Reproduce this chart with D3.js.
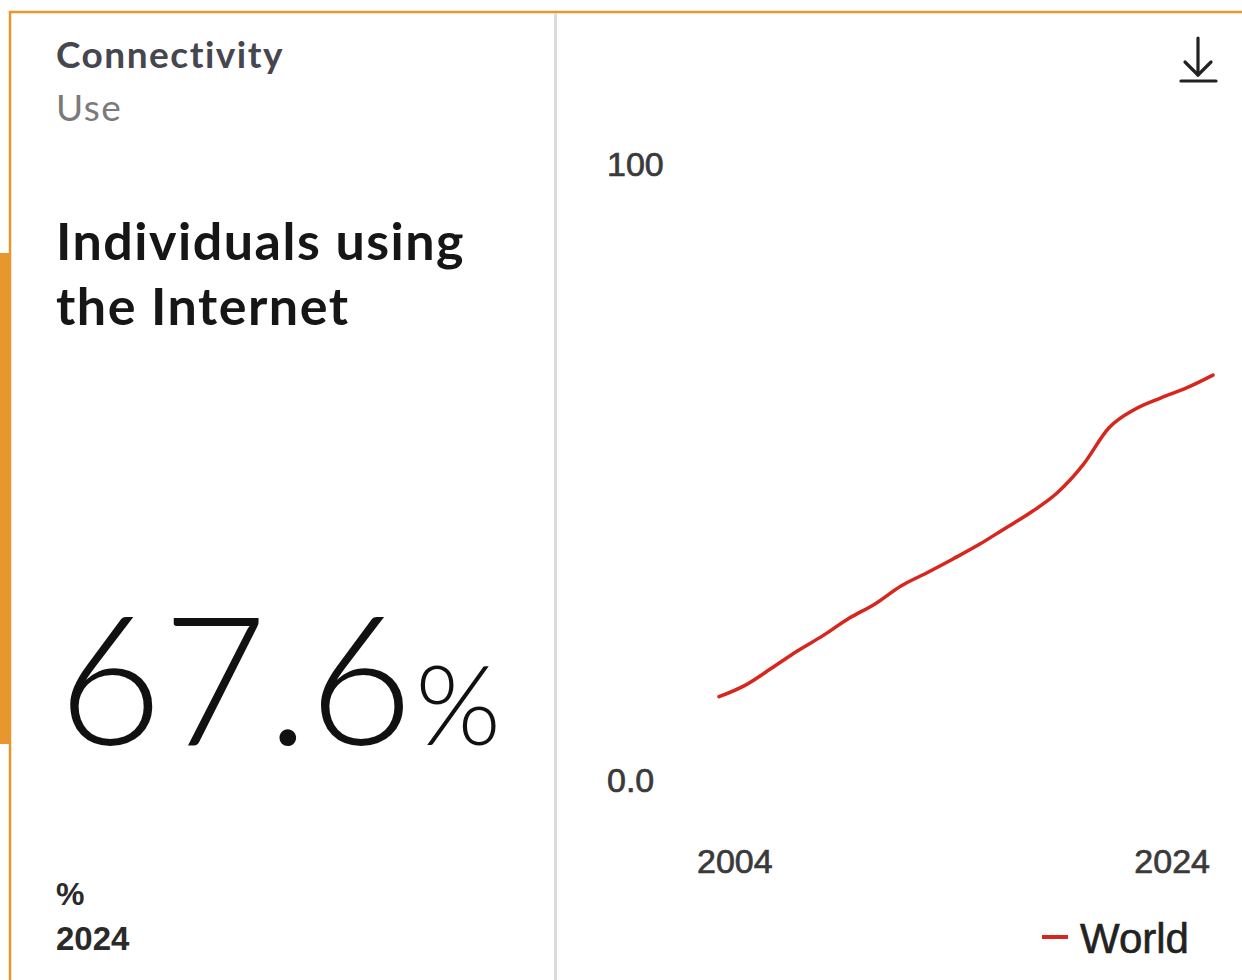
<!DOCTYPE html>
<html>
<head>
<meta charset="utf-8">
<script src="https://cdn.jsdelivr.net/npm/d3@7"></script>
<style>
  body { margin: 0; background: #fff; }
  svg { display: block; }
</style>
</head>
<body>
<div id="card"></div>
<script>
// Chart data
const years = [2005, 2006, 2007, 2008, 2009, 2010, 2011, 2012, 2013, 2014,
               2015, 2016, 2017, 2018, 2019, 2020, 2021, 2022, 2023, 2024];
const worldValues = [13.9, 15.8, 18.6, 21.5, 24.1, 27.0, 29.4, 32.4, 34.6, 36.9,
                     39.3, 42.0, 44.7, 47.9, 52.6, 58.8, 61.9, 63.8, 65.5, 67.6];
const yTickValues = [100, 0];
const yTickLabels = ["100", "0.0"];
const xTickValues = [2004, 2024];
const xTickLabels = ["2004", "2024"];
const seriesName = "World";

const width = 1242;
const height = 980;
const orange = "#e8972f";
const red = "#d7261e";
const axisFont = "'Liberation Sans', Arial, sans-serif";

const svg = d3.select("#card")
    .append("svg")
    .attr("width", width)
    .attr("height", height);

// Card frame
svg.append("rect")
    .attr("x", 10).attr("y", 12)
    .attr("width", width + 10).attr("height", height)
    .attr("fill", "#fff")
    .attr("stroke", orange)
    .attr("stroke-width", 2.5);

// Thick orange marker on the left edge
svg.append("rect")
    .attr("x", 0).attr("y", 253)
    .attr("width", 11).attr("height", 491)
    .attr("fill", orange);

// Divider between the text panel and the chart
svg.append("rect")
    .attr("x", 554).attr("y", 13)
    .attr("width", 3).attr("height", height)
    .attr("fill", "#dcdcdc");

// ----- Left panel -----
svg.append("text")
    .attr("x", 56).attr("y", 68)
    .style("font-family", "Lato, sans-serif")
    .style("font-weight", 700)
    .style("font-size", "37px")
    .style("letter-spacing", "1.5px")
    .attr("fill", "#46464f")
    .text("Connectivity");

svg.append("text")
    .attr("x", 56).attr("y", 121)
    .style("font-family", "Lato, sans-serif")
    .style("font-weight", 400)
    .style("font-size", "37px")
    .style("letter-spacing", "1.5px")
    .attr("fill", "#7a7a7a")
    .text("Use");

const title = svg.append("text")
    .style("font-family", "Lato, sans-serif")
    .style("font-weight", 700)
    .style("font-size", "52px")
    .style("letter-spacing", "1.5px")
    .attr("fill", "#161616");
title.append("tspan").attr("x", 56).attr("y", 260).text("Individuals using");
title.append("tspan").attr("x", 56).attr("y", 325).text("the Internet");

// Headline value
const big = svg.append("text")
    .attr("x", 58).attr("y", 745)
    .style("font-family", "Lato, sans-serif")
    .style("font-weight", 300)
    .attr("fill", "#111");
big.append("tspan").style("font-size", "180px").text(worldValues[worldValues.length - 1].toFixed(1));
big.append("tspan").style("font-size", "110px").attr("dx", 2).text("%");

svg.append("text")
    .attr("x", 56).attr("y", 905)
    .style("font-family", axisFont)
    .style("font-weight", 700)
    .style("font-size", "32px")
    .attr("fill", "#2a2a2a")
    .text("%");

svg.append("text")
    .attr("x", 56).attr("y", 950)
    .style("font-family", axisFont)
    .style("font-weight", 700)
    .style("font-size", "33px")
    .attr("fill", "#2a2a2a")
    .text(years[years.length - 1]);

// ----- Right panel: line chart -----
const x = d3.scaleLinear().domain([2004, 2024]).range([693, 1213]);
const y = d3.scaleLinear().domain([0, 100]).range([780, 181]);

const data = years.map((yr, i) => ({ year: yr, value: worldValues[i] }));

const line = d3.line()
    .x(d => x(d.year))
    .y(d => y(d.value))
    .curve(d3.curveMonotoneX);

svg.append("path")
    .datum(data)
    .attr("d", line)
    .attr("fill", "none")
    .attr("stroke", red)
    .attr("stroke-width", 3.5)
    .attr("stroke-linecap", "round")
    .attr("stroke-linejoin", "round");

// Y labels: top one sits above its value, bottom one is centred on it
svg.selectAll(".ylab")
    .data(yTickValues)
    .enter()
    .append("text")
    .attr("class", "ylab")
    .attr("x", 607)
    .attr("y", d => d === 0 ? y(d) + 12 : y(d) - 5)
    .style("font-family", axisFont)
    .style("font-size", "34px")
    .attr("fill", "#3a3a3a")
    .attr("stroke", "#3a3a3a")
    .attr("stroke-width", 0.7)
    .text((d, i) => yTickLabels[i]);

// X labels: first one left-aligned, last one right-aligned
svg.selectAll(".xlab")
    .data(xTickValues)
    .enter()
    .append("text")
    .attr("class", "xlab")
    .attr("x", (d, i) => i === 0 ? x(d) + 4 : x(d) - 3)
    .attr("y", 873)
    .attr("text-anchor", (d, i) => i === 0 ? "start" : "end")
    .style("font-family", axisFont)
    .style("font-size", "34px")
    .attr("fill", "#3a3a3a")
    .attr("stroke", "#3a3a3a")
    .attr("stroke-width", 0.7)
    .text((d, i) => xTickLabels[i]);

// Legend
svg.append("line")
    .attr("x1", 1042).attr("x2", 1068)
    .attr("y1", 937).attr("y2", 937)
    .attr("stroke", red)
    .attr("stroke-width", 4);

svg.append("text")
    .attr("x", 1080).attr("y", 953)
    .style("font-family", axisFont)
    .style("font-size", "42px")
    .attr("fill", "#222")
    .attr("stroke", "#222")
    .attr("stroke-width", 0.6)
    .text(seriesName);

// Download icon
const icon = svg.append("g")
    .attr("fill", "none")
    .attr("stroke", "#222")
    .attr("stroke-width", 3.2)
    .attr("stroke-linecap", "round")
    .attr("stroke-linejoin", "round");
icon.append("path").attr("d", "M1198,38 V75");
icon.append("path").attr("d", "M1185,62 L1198,75 L1211,62");
icon.append("path").attr("d", "M1181,81 H1216");
</script>
</body>
</html>
